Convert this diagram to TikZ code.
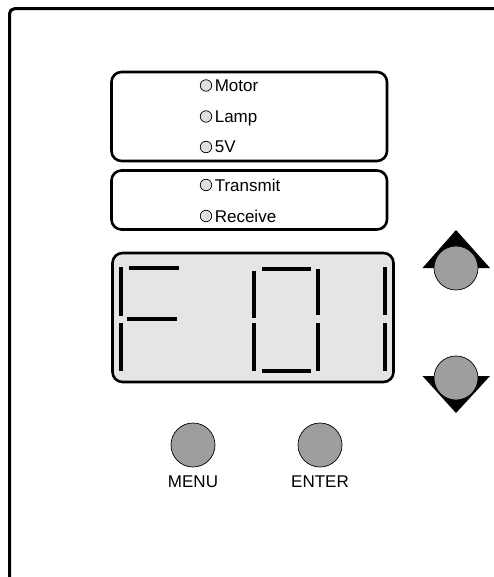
\documentclass[tikz,border=0pt]{standalone}
\usepackage{fontspec}
\setmainfont{Liberation Sans}
\usetikzlibrary{positioning}
\definecolor{lcdgray}{HTML}{E5E5E5}
\definecolor{ledgray}{HTML}{E0E0E0}
\definecolor{keygray}{HTML}{9E9E9E}
\begin{document}
\begin{tikzpicture}[x=1pt,y=-1pt,
    frame/.style={line width=3pt, rounded corners=5pt},
    panel/.style={draw, line width=2.6pt, rounded corners=10pt},
    led/.style={circle, draw, line width=0.7pt, fill=ledgray, minimum size=11.5pt, inner sep=0pt},
    ledtext/.style={inner sep=0pt, text height=12pt, text depth=0pt, font=\fontsize{17}{19}\selectfont},
    key/.style={circle, draw, line width=0.7pt, fill=keygray, minimum size=44pt, inner sep=0pt},
    keytext/.style={inner sep=0pt, text height=12.2pt, text depth=0pt, font=\fontsize{17}{19}\selectfont},
    seg/.style={line width=4pt}]
    \useasboundingbox (0,0) rectangle (493,577);
    \draw[frame] (9.5,580) -- (9.5,8.7) -- (496,8.7);
    \draw[panel] (111.5,72) rectangle (387,161);
    \draw[panel] (111.5,170.5) rectangle (387,229.5);
    \draw[panel, fill=lcdgray] (112.5,253) rectangle (393.5,382);
    \node[led] (motor) at (206,85.5) {};
    \node[led] (lamp) at (206,116.5) {};
    \node[led] (volt) at (206,147) {};
    \node[led] (tx) at (206,185) {};
    \node[led] (rx) at (206,216) {};
    \node[ledtext, right=2.5pt of motor] {Motor};
    \node[ledtext, right=2.5pt of lamp] {Lamp};
    \node[ledtext, right=2.5pt of volt] {5V};
    \node[ledtext, right=2.5pt of tx] {Transmit};
    \node[ledtext, right=2.5pt of rx] {Receive};
    \draw[seg] (129,268) -- (179,268);
    \draw[seg] (121,267) -- (121,316);
    \draw[seg] (127,319) -- (177,319);
    \draw[seg] (121,323) -- (121,371);
    \draw[seg] (262,269) -- (311,269);
    \draw[seg] (254,271) -- (254,318);
    \draw[seg] (318,269) -- (318,315);
    \draw[seg] (254,323) -- (254,371);
    \draw[seg] (318,323) -- (318,371);
    \draw[seg] (262,371) -- (311,371);
    \draw[seg] (385,267) -- (385,315);
    \draw[seg] (385,323) -- (385,371);
    \fill (422.5,268) -- (456,230) -- (490,268) -- cycle;
    \fill (422.5,376) -- (456,413) -- (490,376) -- cycle;
    \node[key] (up) at (456,268) {};
    \node[key] (down) at (456,378) {};
    \node[key] (menu) at (193,445) {};
    \node[key] (enter) at (320,445) {};
    \node[keytext, below=8pt of menu] {MENU};
    \node[keytext, below=8pt of enter] {ENTER};
\end{tikzpicture}
\end{document}
